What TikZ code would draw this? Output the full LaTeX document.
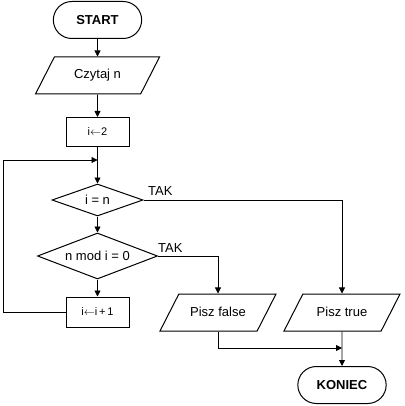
\documentclass[tikz,border=0pt]{standalone}
\usepackage{fontspec}
\setmainfont{Liberation Sans}
\usetikzlibrary{shapes.geometric,shapes.misc,arrows.meta}

\tikzset{
  txt/.style={font=\fontsize{13}{15}\selectfont},
  term/.style={rounded rectangle, draw, line width=1pt, minimum width=95pt,
    minimum height=37pt, font=\fontsize{13}{15}\selectfont\bfseries},
  io/.style={trapezium, trapezium left angle=63, trapezium right angle=117,
    trapezium stretches body=true, draw, line width=1pt, inner xsep=0pt,
    inner ysep=12.5pt, text height=9.5pt, text depth=2.5pt,
    minimum width=118pt, txt},
  proc/.style={rectangle, draw, line width=1pt, minimum width=63pt,
    minimum height=29pt, font=\fontsize{11}{13}\selectfont},
  decision/.style={diamond, draw, line width=1pt, inner sep=0pt, aspect=2.6, txt},
  flow/.style={line width=0.8pt, -{Triangle[length=6pt,width=6pt]}},
  lbl/.style={txt, inner sep=0pt, anchor=south west}
}

\begin{document}
\begin{tikzpicture}[x=1pt, y=-1pt]
  \useasboundingbox (0,0) rectangle (404,406);

  % main column
  \node[term] (start) at (97.5,20) {START};
  \node[io, minimum width=124pt] (read) at (97.5,75.5) {Czytaj n};
  \node[proc] (init) at (97.5,132) {i$\leftarrow$2};
  \node[decision, minimum width=91pt, minimum height=32pt] (testeq) at (97.5,200) {i = n};
  \node[decision, minimum width=120pt, minimum height=46pt] (testmod) at (97.5,256) {n mod i = 0};
  \node[proc, minimum height=30pt] (incr) at (97.5,312) {i$\leftarrow$i\,+\,1};

  % outputs
  \node[io, minimum width=116pt] (outfalse) at (218,312.5) {Pisz false};
  \node[io, minimum width=116pt] (outtrue) at (342,312.5) {Pisz true};
  \node[term] (stop) at (342,385) {KONIEC};

  \node[lbl] (yeseq) at (148,196) {TAK};
  \node[lbl] (yesmod) at (158,253) {TAK};

  \coordinate (loopin) at (97.5,160);
  \coordinate (merge) at (342,348);

  \draw[flow] (start) -- (read);
  \draw[flow] (read) -- (init);
  \draw[flow] (init) -- (testeq);
  \draw[flow] (testeq) -- (testmod);
  \draw[flow] (testmod) -- (incr);
  \draw[flow] (incr.west) -- (3,312) -- (3,160) -- (loopin);
  \draw[flow] (testeq.east) -| (outtrue.north);
  \draw[flow] (testmod.east) -| (outfalse.north);
  \draw[flow] (outfalse.south) |- (merge);
  \draw[flow] (outtrue) -- (stop);
\end{tikzpicture}
\end{document}
